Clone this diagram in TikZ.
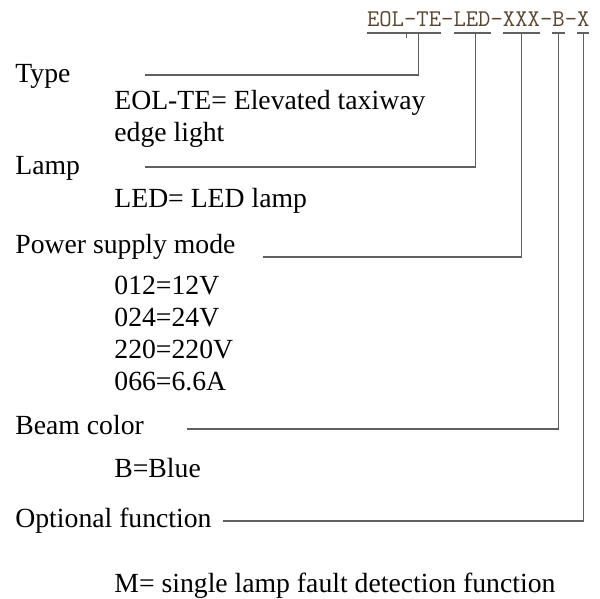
\documentclass[tikz,border=0pt]{standalone}
\usepackage{fontspec}
\setmainfont{Liberation Serif}
\usetikzlibrary{positioning,calc}
\definecolor{codebrown}{HTML}{5A4630}
\definecolor{wiregray}{HTML}{606060}

\begin{document}
\begin{tikzpicture}[x=0.5pt,y=-0.5pt,
  txt/.style={anchor=base west, inner sep=0pt, font=\fontsize{13.85}{16}\selectfont},
  codepart/.style={inner sep=0pt, outer sep=0pt, text height=7.4pt, text depth=0pt,
    text=codebrown, font=\fontsize{12}{13}\ttfamily},
  wire/.style={draw=wiregray, line width=0.65pt}]
  \useasboundingbox (0,0) rectangle (600,599);

  % code line
  \node[codepart, anchor=south west] (eol) at (367,27) {EOL-TE};
  \node[codepart, right=0pt of eol] (d1) {-};
  \node[codepart, right=0pt of d1] (led) {LED};
  \node[codepart, right=0pt of led] (d2) {-};
  \node[codepart, right=0pt of d2] (xxx) {XXX};
  \node[codepart, right=0pt of xxx] (d3) {-};
  \node[codepart, right=0pt of d3] (bcol) {B};
  \node[codepart, right=0pt of bcol] (d4) {-};
  \node[codepart, right=0pt of d4] (opt) {X};

  % underlines and drop points
  \foreach \seg in {eol,led,xxx,bcol,opt}
    \draw[wire] ([yshift=-3pt]\seg.south west) -- ([yshift=-3pt]\seg.south east);
  \coordinate (eolDrop) at ($([yshift=-3pt]eol.south west)!0.69!([yshift=-3pt]eol.south east)$);
  \coordinate (eolTick) at ($([yshift=-3pt]eol.south west)!0.53!([yshift=-3pt]eol.south east)$);
  \coordinate (ledDrop) at ($([yshift=-3pt]led.south west)!0.6!([yshift=-3pt]led.south east)$);
  \coordinate (xxxDrop) at ([yshift=-3pt]xxx.south);
  \coordinate (bcolDrop) at ([yshift=-3pt]bcol.south);
  \coordinate (optDrop) at ([yshift=-3pt]opt.south);
  \draw[wire] (eolTick) -- ++(0,5);

  % labels
  \node[txt] (type) at (15,83) {Type};
  \node[txt] (typeA) at (114,110) {EOL-TE= Elevated taxiway};
  \node[txt] (typeB) at (114,141) {edge light};
  \node[txt] (lamp) at (15,175) {Lamp};
  \node[txt] (lampA) at (114,207) {LED= LED lamp};
  \node[txt] (power) at (15,253) {Power supply mode};
  \node[txt] (powerA) at (114,294) {012=12V};
  \node[txt] (powerB) at (114,326) {024=24V};
  \node[txt] (powerC) at (114,358) {220=220V};
  \node[txt] (powerD) at (114,390) {066=6.6A};
  \node[txt] (beam) at (15,434) {Beam color};
  \node[txt] (beamA) at (114,477) {B=Blue};
  \node[txt] (func) at (15,527) {Optional function};
  \node[txt] (funcA) at (114,592) {M= single lamp fault detection function};

  % leader lines
  \coordinate (typeL) at (145,75);
  \coordinate (lampL) at (145,167);
  \coordinate (powerL) at (263,257);
  \coordinate (beamL) at (187,429);
  \coordinate (funcL) at (223,521);
  \draw[wire] (typeL) -| (eolDrop);
  \draw[wire] (lampL) -| (ledDrop);
  \draw[wire] (powerL) -| (xxxDrop);
  \draw[wire] (beamL) -| (bcolDrop);
  \draw[wire] (funcL) -| (optDrop);
\end{tikzpicture}
\end{document}
